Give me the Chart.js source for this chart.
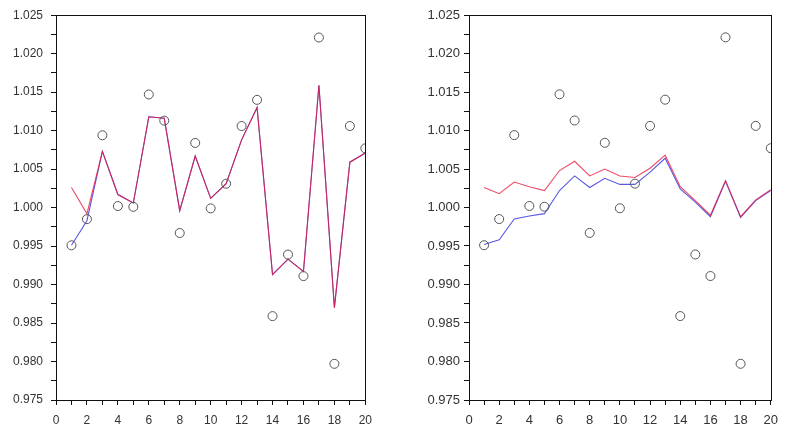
<!DOCTYPE html>
<html>
<head>
<meta charset="utf-8">
<script src="https://cdn.jsdelivr.net/npm/chart.js@4"></script>
<style>
    html, body { margin: 0; padding: 0; background: #fff; }
    body { width: 786px; height: 425px; position: relative; overflow: hidden; }
    canvas { position: absolute; top: 0; }
    #leftPanel { left: 0; }
    #rightPanel { left: 400px; }
</style>
</head>
<body>
<canvas id="leftPanel" width="380" height="425"></canvas>
<canvas id="rightPanel" width="386" height="425"></canvas>
<script>
const runs = [1, 2, 3, 4, 5, 6, 7, 8, 9, 10, 11, 12, 13, 14, 15, 16, 17, 18, 19, 20];

const observed = [0.9951, 0.9985, 1.0094, 1.0002, 1.0001, 1.0147, 1.0113, 0.9967, 1.0084, 0.9999,
    1.0031, 1.0106, 1.0140, 0.9859, 0.9939, 0.9911, 1.0221, 0.9797, 1.0106, 1.0077];

// left panel: one-step estimates
const leftRed = [1.0026, 0.9992, 1.0073, 1.0017, 1.0006, 1.0118, 1.0116, 0.9996, 1.0067, 1.0012,
    1.0031, 1.0088, 1.0130, 0.9913, 0.9933, 0.9917, 1.0159, 0.9870, 1.0059, 1.0071];
const leftBlue = [0.9951, 0.9983, 1.0073, 1.0017, 1.0006, 1.0118, 1.0116, 0.9996, 1.0067, 1.0012,
    1.0031, 1.0088, 1.0130, 0.9913, 0.9933, 0.9917, 1.0159, 0.9870, 1.0059, 1.0071];

// right panel: smoothed estimates
const rightRed = [1.0026, 1.0018, 1.0033, 1.0027, 1.0022, 1.0048, 1.0060, 1.0041, 1.0050, 1.0041,
    1.0039, 1.0051, 1.0068, 1.0027, 1.0009, 0.9990, 1.0035, 0.9988, 1.0010, 1.0023];
const rightBlue = [0.9952, 0.9958, 0.9985, 0.9989, 0.9992, 1.0022, 1.0041, 1.0026, 1.0038, 1.0030,
    1.0030, 1.0046, 1.0064, 1.0024, 1.0007, 0.9988, 1.0034, 0.9987, 1.0009, 1.0022];

const yMin = 0.975;
const yMax = 1.025;
const xMin = 0;
const xMax = 20;

const points = (values) => runs.map((run, i) => ({ x: run, y: values[i] }));

const framePlugin = {
    id: 'frame',
    afterDraw(chart) {
        const { ctx, chartArea } = chart;
        ctx.save();
        ctx.strokeStyle = '#111';
        ctx.lineWidth = 1;
        ctx.strokeRect(Math.round(chartArea.left) + 0.5, Math.round(chartArea.top) + 0.5,
            Math.round(chartArea.right - chartArea.left), Math.round(chartArea.bottom - chartArea.top));
        ctx.restore();
    },
};

const lineSet = (values, color) => ({
    data: points(values),
    showLine: true,
    borderColor: color,
    borderWidth: 1.1,
    pointRadius: 0,
    fill: false,
    tension: 0,
    clip: 0,
});

const buildPanel = (canvasId, red, blue, opts) => {
    new Chart(document.getElementById(canvasId), {
        type: 'scatter',
        data: {
            datasets: [
                {
                    data: points(observed),
                    pointStyle: 'circle',
                    pointRadius: 4.5,
                    pointBorderWidth: 1,
                    pointBorderColor: '#555',
                    pointBackgroundColor: 'rgba(255,255,255,0)',
                    showLine: false,
                    clip: 0,
                    order: 0,
                },
                { ...lineSet(red, 'rgba(232, 22, 62, 0.78)'), order: 1 },
                { ...lineSet(blue, 'rgb(88, 88, 225)'), order: 2 },
            ],
        },
        options: {
            responsive: false,
            animation: false,
            events: [],
            layout: { padding: { top: 15, right: opts.padRight, bottom: 0, left: 0 } },
            plugins: { legend: { display: false }, tooltip: { enabled: false } },
            scales: {
                x: {
                    type: 'linear',
                    min: xMin,
                    max: xMax,
                    afterFit: (scale) => { scale.height = 25; },
                    border: { display: true, color: '#111', width: 1 },
                    grid: { display: true, drawOnChartArea: false, drawTicks: true, tickLength: 5, color: '#111' },
                    ticks: {
                        stepSize: 1,
                        autoSkip: false,
                        maxRotation: 0,
                        padding: 8,
                        color: '#333',
                        font: { family: 'Liberation Sans, Arial, sans-serif', size: opts.fontSize },
                        callback: (value) => (Math.round(value) % 2 === 0 ? String(Math.round(value)) : ''),
                    },
                },
                y: {
                    type: 'linear',
                    min: yMin,
                    max: yMax,
                    afterFit: (scale) => { scale.width = opts.axisWidth; },
                    border: { display: true, color: '#111', width: 1 },
                    grid: { display: true, drawOnChartArea: false, drawTicks: true, tickLength: 5, color: '#111' },
                    ticks: {
                        stepSize: 0.0025,
                        autoSkip: false,
                        padding: opts.labelPad,
                        color: '#333',
                        font: { family: 'Liberation Sans, Arial, sans-serif', size: opts.fontSize },
                        callback: (value) => (Math.round(value * 10000) % 50 === 0 ? value.toFixed(3) : ''),
                    },
                },
            },
        },
        plugins: [framePlugin],
    });
};

buildPanel('leftPanel', leftRed, leftBlue, { axisWidth: 56, padRight: 14, labelPad: 8, fontSize: 12 });
buildPanel('rightPanel', rightRed, rightBlue, { axisWidth: 69, padRight: 7, labelPad: 4, fontSize: 13 });
</script>
</body>
</html>
